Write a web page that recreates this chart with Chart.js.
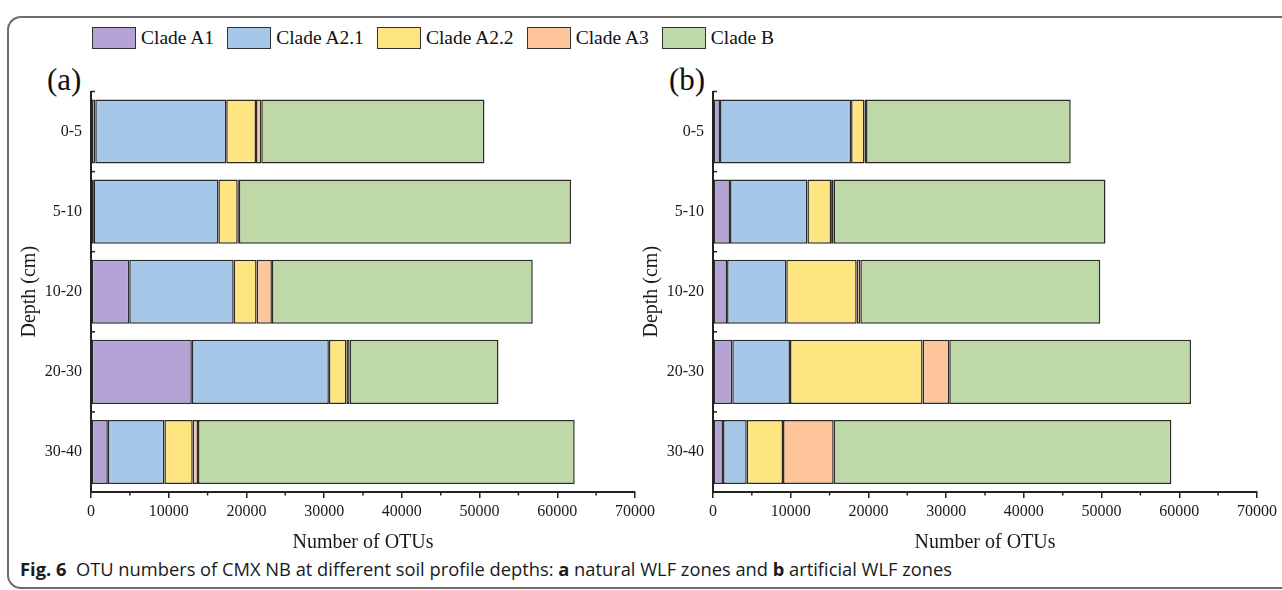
<!DOCTYPE html>
<html><head><meta charset="utf-8">
<script src="https://cdn.jsdelivr.net/npm/chart.js@4.4.1/dist/chart.umd.min.js"></script>
<style>
html,body{margin:0;padding:0;background:#fff;width:1282px;height:590px;overflow:hidden;position:relative;}
#frame{position:absolute;left:7px;top:16px;width:1320px;height:573px;border:2px solid #6c6c6c;border-right:none;border-radius:14px 0 0 14px;box-sizing:border-box;}
#legend{position:absolute;left:92px;top:27px;display:flex;align-items:center;font-family:'Liberation Serif',serif;font-size:19.5px;color:#111;white-space:nowrap;}
.item{display:flex;align-items:center;margin-right:13px;}
.box{width:42px;height:20px;border:1.5px solid #333;margin-right:5px;}
.plab{position:absolute;font-family:'Liberation Serif',serif;font-size:31px;color:#111;line-height:1;}
canvas{position:absolute;}
#caption{position:absolute;left:20px;top:557px;font-family:'Open Sans',sans-serif;font-size:18px;color:#1a1a1a;white-space:nowrap;transform-origin:0 0;line-height:24px;}
#caption b{font-weight:700;}
</style>
</head><body>
<div id="frame"></div>
<div id="legend"></div>
<div class="plab" style="left:47px;top:64px;">(a)</div>
<div class="plab" style="left:669px;top:64px;">(b)</div>
<canvas id="ca" width="660" height="500" style="left:0px;top:55px;width:660px;height:500px;"></canvas>
<canvas id="cb" width="660" height="500" style="left:622px;top:55px;width:660px;height:500px;"></canvas>
<div id="caption"><b>Fig. 6</b>&nbsp; OTU numbers of CMX NB at different soil profile depths: <b>a</b> natural WLF zones and <b>b</b> artificial WLF zones</div>
<script>
// ---- data ----
const depths = ['0-5', '5-10', '10-20', '20-30', '30-40'];
const clades = ['Clade A1', 'Clade A2.1', 'Clade A2.2', 'Clade A3', 'Clade B'];
const cladeColors = ['#b5a3d6', '#a7c7e9', '#fee581', '#fec59a', '#bfd8a8'];
const xTicks = [0, 10000, 20000, 30000, 40000, 50000, 60000, 70000];

// (a) natural WLF zones
const a_cladeA1  = [550, 370, 4920, 12980, 2170];
const a_cladeA21 = [16850, 16020, 13440, 17630, 7270];
const a_cladeA22 = [3830, 2490, 2950, 2260, 3650];
const a_cladeA3  = [680, 150, 1970, 410, 680];
const a_cladeB   = [28720, 42740, 33560, 19150, 48470];

// (b) artificial WLF zones
const b_cladeA1  = [900, 2190, 1810, 2480, 1290];
const b_cladeA21 = [16870, 9960, 7620, 7430, 3050];
const b_cladeA22 = [1720, 3050, 9060, 17060, 4670];
const b_cladeA3  = [200, 330, 470, 3430, 6520];
const b_cladeB   = [26340, 34970, 30870, 31110, 43450];

// ---- legend ----
const lg = document.getElementById('legend');
clades.forEach((c, i) => {
  const it = document.createElement('div'); it.className = 'item';
  const bx = document.createElement('div'); bx.className = 'box'; bx.style.background = cladeColors[i];
  const tx = document.createElement('span'); tx.textContent = c;
  it.appendChild(bx); it.appendChild(tx); lg.appendChild(it);
});

// ---- caption fit ----
const cap = document.getElementById('caption');
const w = cap.getBoundingClientRect().width;
cap.style.transform = 'scaleX(' + (932 / w) + ')';

const serif = 'Liberation Serif';
const tickPlugin = {
  id: 'extraTicks',
  afterDraw(chart) {
    const ctx = chart.ctx, xs = chart.scales.x, ys = chart.scales.y;
    ctx.save();
    ctx.strokeStyle = '#222';
    ctx.lineWidth = 1.5;
    for (let i = 0; i < xTicks.length - 1; i++) {
      const px = xs.getPixelForValue((xTicks[i] + xTicks[i + 1]) / 2);
      ctx.beginPath(); ctx.moveTo(px, xs.top); ctx.lineTo(px, xs.top + 3.5); ctx.stroke();
    }
    const n = depths.length;
    const half = (ys.getPixelForTick(1) - ys.getPixelForTick(0)) / 2;
    for (let i = 0; i < n; i++) {
      const yy = ys.getPixelForTick(i) - half;
      ctx.beginPath(); ctx.moveTo(ys.right, yy); ctx.lineTo(ys.right + 4, yy); ctx.stroke();
    }
    ctx.restore();
  }
};

function makeChart(id, arrs) {
  const datasets = arrs.map((d, i) => ({
    label: clades[i],
    data: d,
    backgroundColor: cladeColors[i],
    borderColor: '#2b2b2b',
    borderWidth: 1.5,
    borderSkipped: false,
    categoryPercentage: 0.8,
    barPercentage: 1.0
  }));
  return new Chart(document.getElementById(id), {
    type: 'bar',
    data: { labels: depths, datasets },
    plugins: [tickPlugin],
    options: {
      indexAxis: 'y',
      responsive: false,
      animation: false,
      devicePixelRatio: 1,
      layout: { padding: { left: 18, top: 36.5, right: 25, bottom: 0 } },
      plugins: { legend: { display: false }, tooltip: { enabled: false } },
      scales: {
        x: {
          stacked: true, min: 0, max: 70000,
          afterBuildTicks: s => { s.ticks = xTicks.map(v => ({ value: v })); },
          afterFit: s => { s.height = 63; },
          grid: { drawOnChartArea: false, drawTicks: true, tickLength: 6, color: '#222', lineWidth: 1.5 },
          border: { display: true, color: '#222', width: 2 },
          ticks: { color: '#1a1a1a', font: { family: serif, size: 16 }, padding: 4, maxRotation: 0, autoSkip: false,
                   callback: v => String(v) },
          title: { display: true, text: 'Number of OTUs', color: '#1a1a1a', font: { family: serif, size: 20 }, padding: 0 }
        },
        y: {
          stacked: true,
          afterFit: s => { s.width = 73; },
          grid: { display: true, drawOnChartArea: false, drawTicks: false, color: 'rgba(0,0,0,0)' },
          border: { display: true, color: '#222', width: 2 },
          ticks: { color: '#1a1a1a', font: { family: serif, size: 16 }, padding: 9 },
          title: { display: true, text: 'Depth (cm)', color: '#1a1a1a', font: { family: serif, size: 20 }, padding: 0 }
        }
      }
    }
  });
}

makeChart('ca', [a_cladeA1, a_cladeA21, a_cladeA22, a_cladeA3, a_cladeB]);
makeChart('cb', [b_cladeA1, b_cladeA21, b_cladeA22, b_cladeA3, b_cladeB]);
</script>
</body></html>
